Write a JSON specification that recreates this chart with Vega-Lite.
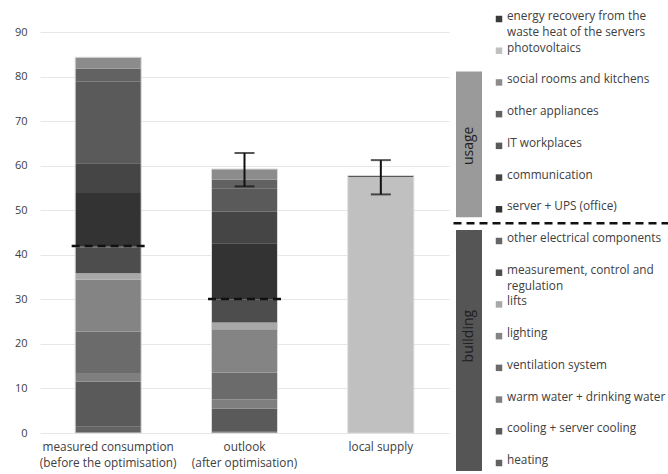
{
  "$schema": "https://vega.github.io/schema/vega-lite/v6.json",
  "background": "white",
  "padding": {"left": 14, "top": 11, "right": 0, "bottom": 0},
  "config": {
    "font": "Open Sans",
    "view": {"stroke": null},
    "text": {"font": "Open Sans"}
  },
  "datasets": {
    "segments": [
      {"scenario": "measured consumption\n(before the optimisation)", "category": "heating", "value": 1.4},
      {"scenario": "measured consumption\n(before the optimisation)", "category": "cooling + server cooling", "value": 10.1},
      {"scenario": "measured consumption\n(before the optimisation)", "category": "warm water + drinking water", "value": 2.0},
      {"scenario": "measured consumption\n(before the optimisation)", "category": "ventilation system", "value": 9.3},
      {"scenario": "measured consumption\n(before the optimisation)", "category": "lighting", "value": 11.6},
      {"scenario": "measured consumption\n(before the optimisation)", "category": "lifts", "value": 1.5},
      {"scenario": "measured consumption\n(before the optimisation)", "category": "measurement, control and\nregulation", "value": 5.8},
      {"scenario": "measured consumption\n(before the optimisation)", "category": "other electrical components", "value": 0.3},
      {"scenario": "measured consumption\n(before the optimisation)", "category": "server + UPS (office)", "value": 11.9},
      {"scenario": "measured consumption\n(before the optimisation)", "category": "communication", "value": 6.7},
      {"scenario": "measured consumption\n(before the optimisation)", "category": "IT workplaces", "value": 18.3},
      {"scenario": "measured consumption\n(before the optimisation)", "category": "other appliances", "value": 2.9},
      {"scenario": "measured consumption\n(before the optimisation)", "category": "social rooms and kitchens", "value": 2.6},
      {"scenario": "outlook\n(after optimisation)", "category": "heating", "value": 0.3},
      {"scenario": "outlook\n(after optimisation)", "category": "cooling + server cooling", "value": 5.2},
      {"scenario": "outlook\n(after optimisation)", "category": "warm water + drinking water", "value": 2.1},
      {"scenario": "outlook\n(after optimisation)", "category": "ventilation system", "value": 6.0},
      {"scenario": "outlook\n(after optimisation)", "category": "lighting", "value": 9.7},
      {"scenario": "outlook\n(after optimisation)", "category": "lifts", "value": 1.5},
      {"scenario": "outlook\n(after optimisation)", "category": "measurement, control and\nregulation", "value": 5.1},
      {"scenario": "outlook\n(after optimisation)", "category": "other electrical components", "value": 0.2},
      {"scenario": "outlook\n(after optimisation)", "category": "server + UPS (office)", "value": 12.5},
      {"scenario": "outlook\n(after optimisation)", "category": "communication", "value": 7.1},
      {"scenario": "outlook\n(after optimisation)", "category": "IT workplaces", "value": 5.3},
      {"scenario": "outlook\n(after optimisation)", "category": "other appliances", "value": 1.9},
      {"scenario": "outlook\n(after optimisation)", "category": "social rooms and kitchens", "value": 2.4},
      {"scenario": "local supply", "category": "photovoltaics", "value": 57.5},
      {"scenario": "local supply", "category": "energy recovery from the\nwaste heat of the servers", "value": 0.3}
    ],
    "splits": [
      {"scenario": "measured consumption\n(before the optimisation)", "building_total": 42.0},
      {"scenario": "outlook\n(after optimisation)", "building_total": 30.1}
    ],
    "errors": [
      {"scenario": "outlook\n(after optimisation)", "lo": 55.4, "hi": 62.9},
      {"scenario": "local supply", "lo": 53.6, "hi": 61.3}
    ],
    "legendItems": [
      {"category": "energy recovery from the\nwaste heat of the servers"},
      {"category": "photovoltaics"},
      {"category": "social rooms and kitchens"},
      {"category": "other appliances"},
      {"category": "IT workplaces"},
      {"category": "communication"},
      {"category": "server + UPS (office)"},
      {"category": "other electrical components"},
      {"category": "measurement, control and\nregulation"},
      {"category": "lifts"},
      {"category": "lighting"},
      {"category": "ventilation system"},
      {"category": "warm water + drinking water"},
      {"category": "cooling + server cooling"},
      {"category": "heating"}
    ],
    "groups": [
      {"group": "usage", "first": "social rooms and kitchens", "last": "server + UPS (office)", "mid": "IT workplaces"},
      {"group": "building", "first": "other electrical components", "last": "heating", "mid": "lighting"}
    ],
    "divider": [
      {"after": "server + UPS (office)"}
    ]
  },
  "hconcat": [
    {
      "width": 409,
      "height": 414,
      "layer": [
        {
          "data": {"name": "segments"},
          "transform": [
            {"window": [{"op": "row_number", "as": "seq"}], "groupby": ["scenario"]}
          ],
          "mark": {"type": "bar"},
          "encoding": {
            "x": {
              "field": "scenario", "type": "nominal",
              "sort": ["measured consumption\n(before the optimisation)", "outlook\n(after optimisation)", "local supply"],
              "scale": {"paddingInner": 0.516, "paddingOuter": 0.258},
              "axis": {
                "title": null, "labelAngle": 0, "ticks": false, "domain": false,
                "labelExpr": "split(datum.label, '\\n')",
                "labelColor": "#404040", "labelFontSize": 11.8, "labelLineHeight": 16,
                "labelPadding": 8, "labelFont": "Open Sans"
              }
            },
            "y": {
              "field": "value", "type": "quantitative", "stack": "zero",
              "scale": {"domain": [0, 93.0], "nice": false, "zero": true},
              "axis": {
                "title": null, "values": [0, 10, 20, 30, 40, 50, 60, 70, 80, 90],
                "domain": false, "ticks": false, "gridColor": "#e6e6e6",
                "labelColor": "#404040", "labelFontSize": 11, "labelPadding": 13,
                "labelFont": "Open Sans"
              }
            },
            "order": {"field": "seq", "type": "quantitative"},
            "color": {
              "field": "category", "type": "nominal",
              "scale": {
                "domain": ["heating", "cooling + server cooling", "warm water + drinking water", "ventilation system", "lighting", "lifts", "measurement, control and\nregulation", "other electrical components", "server + UPS (office)", "communication", "IT workplaces", "other appliances", "social rooms and kitchens", "photovoltaics", "energy recovery from the\nwaste heat of the servers"],
                "range": ["#636363", "#5a5a5a", "#7f7f7f", "#6b6b6b", "#848484", "#a8a8a8", "#4d4d4d", "#666666", "#333333", "#454545", "#5a5a5a", "#626262", "#8c8c8c", "#c0c0c0", "#3a3a3a"]
              },
              "legend": null
            }
          }
        },
        {
          "data": {"name": "segments"},
          "mark": {"type": "bar", "filled": false, "stroke": "#d9d9d9", "strokeWidth": 1},
          "encoding": {
            "x": {"field": "scenario", "type": "nominal", "sort": ["measured consumption\n(before the optimisation)", "outlook\n(after optimisation)", "local supply"]},
            "y": {"aggregate": "sum", "field": "value", "type": "quantitative"}
          }
        },
        {
          "data": {"name": "splits"},
          "mark": {"type": "rule", "color": "#111111", "strokeWidth": 2.5, "strokeDash": [8, 5], "xOffset": -36.5, "x2Offset": 36.5},
          "encoding": {
            "x": {"field": "scenario", "type": "nominal", "sort": ["measured consumption\n(before the optimisation)", "outlook\n(after optimisation)", "local supply"]},
            "x2": {"field": "scenario"},
            "y": {"field": "building_total", "type": "quantitative"}
          }
        },
        {
          "data": {"name": "errors"},
          "mark": {"type": "errorbar", "ticks": {"size": 20, "thickness": 2, "color": "#111111"}, "rule": {"strokeWidth": 2, "color": "#111111"}},
          "encoding": {
            "x": {"field": "scenario", "type": "nominal", "sort": ["measured consumption\n(before the optimisation)", "outlook\n(after optimisation)", "local supply"]},
            "y": {"field": "lo", "type": "quantitative", "title": null},
            "y2": {"field": "hi"}
          }
        }
      ]
    },
    {
      "width": 30,
      "height": 444,
      "layer": [
        {
          "data": {"name": "groups"},
          "mark": {"type": "bar", "size": 26, "yOffset": -11, "y2Offset": 8},
          "encoding": {
            "x": {"datum": "bracket", "type": "nominal", "scale": {"type": "point", "domain": ["bracket", "item"], "padding": 0}, "axis": null},
            "y": {"field": "first", "type": "nominal", "scale": {"type": "point", "padding": 0, "domain": ["energy recovery from the\nwaste heat of the servers", "photovoltaics", "social rooms and kitchens", "other appliances", "IT workplaces", "communication", "server + UPS (office)", "other electrical components", "measurement, control and\nregulation", "lifts", "lighting", "ventilation system", "warm water + drinking water", "cooling + server cooling", "heating"]}, "axis": null},
            "y2": {"field": "last"},
            "fill": {"field": "group", "type": "nominal", "scale": {"domain": ["usage", "building"], "range": ["#9a9a9a", "#555555"]}, "legend": null}
          }
        },
        {
          "data": {"name": "groups"},
          "mark": {"type": "text", "angle": 270, "fontSize": 14, "color": "#1f1f1f", "align": "center", "baseline": "middle"},
          "encoding": {
            "x": {"datum": "bracket", "type": "nominal"},
            "y": {"field": "mid", "type": "nominal"},
            "text": {"field": "group"}
          }
        },
        {
          "data": {"name": "divider"},
          "mark": {"type": "rule", "strokeDash": [8, 5], "strokeWidth": 2.5, "color": "#111111", "yOffset": 14, "xOffset": -15.5, "x2Offset": 170},
          "encoding": {
            "x": {"datum": "bracket", "type": "nominal"},
            "x2": {"datum": "item"},
            "y": {"field": "after", "type": "nominal"}
          }
        },
        {
          "data": {"name": "legendItems"},
          "mark": {"type": "point", "shape": "square", "size": 42, "filled": true, "opacity": 1},
          "encoding": {
            "x": {"datum": "item", "type": "nominal"},
            "y": {"field": "category", "type": "nominal"},
            "color": {"field": "category", "type": "nominal", "legend": null}
          }
        },
        {
          "data": {"name": "legendItems"},
          "mark": {"type": "text", "align": "left", "baseline": "top", "dx": 8, "dy": -8, "fontSize": 11.8, "lineHeight": 16, "lineBreak": "\n", "color": "#404040"},
          "encoding": {
            "x": {"datum": "item", "type": "nominal"},
            "y": {"field": "category", "type": "nominal"},
            "text": {"field": "category"}
          }
        }
      ]
    }
  ],
  "spacing": 3,
  "resolve": {"scale": {"x": "independent", "y": "independent", "color": "shared"}}
}
